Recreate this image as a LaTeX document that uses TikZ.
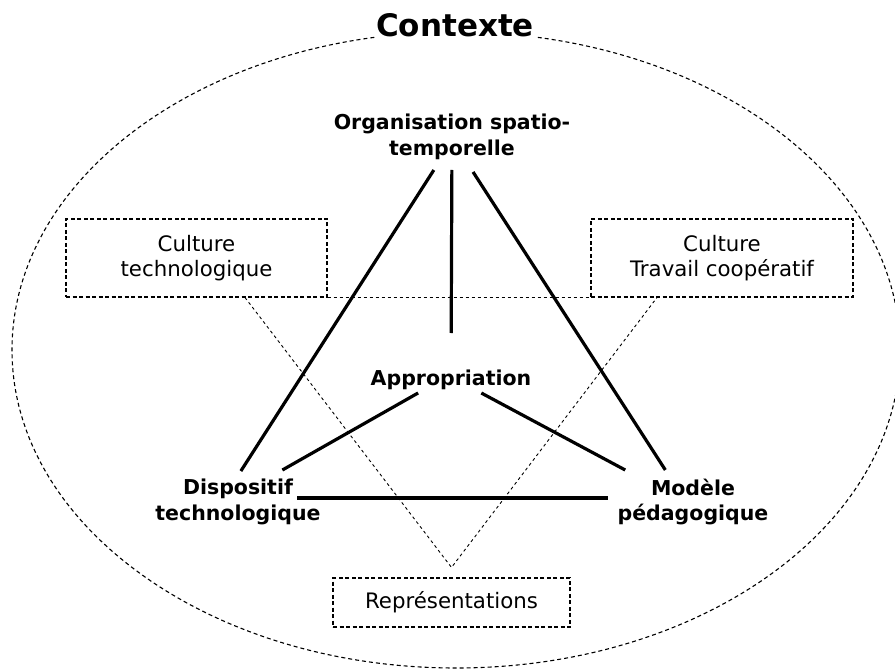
\documentclass[tikz,border=0pt]{standalone}
\usepackage{fontspec}
\setmainfont{DejaVu Sans}

\begin{document}
\begin{tikzpicture}[x=1pt,y=-1pt,
    pole/.style={font=\bfseries\fontsize{20.5}{25.5}\selectfont,align=center,inner sep=0pt},
    cadre/.style={draw,dash pattern=on 4pt off 2.5pt,line width=1.1pt,fill=white,align=center,inner sep=0pt,font=\fontsize{21.3}{25}\selectfont},
    lien/.style={line width=3.2pt},
    pointille/.style={dash pattern=on 4pt off 3pt,line width=1.1pt}]
  \useasboundingbox (0,0) rectangle (895,671);
  \draw[pointille] (456,350) ellipse [x radius=444, y radius=318];
  \node[fill=white,inner sep=1pt,font=\bfseries\fontsize{31}{36}\selectfont] (ctx) at (455,25) {Contexte};

  \node[pole] (org) at (452,137) {Organisation spatio-\\temporelle};
  \node[pole] (appr) at (451,380) {Appropriation};
  \node[pole] (disp) at (238,502) {Dispositif\\technologique};
  \node[pole] (mod) at (693,502) {Modèle\\pédagogique};

  \node[cadre,minimum width=261pt,minimum height=78pt] (cultech) at (196.5,258) {Culture\\technologique};
  \node[cadre,minimum width=262pt,minimum height=78pt] (cultcoop) at (722,258) {Culture\\Travail coopératif};
  \node[cadre,minimum width=237pt,minimum height=49pt] (rep) at (451.5,602.5) {Représentations};
  \coordinate (apex) at ([yshift=10pt]rep.north);

  % triangle des representations
  \draw[dash pattern=on 3pt off 3pt,line width=0.9pt] ([xshift=48.5pt]cultech.south) -- (apex) -- ([xshift=-65pt]cultcoop.south);
  \draw[dash pattern=on 3pt off 3pt,line width=0.9pt] (cultech.south east) -- (cultcoop.south west);

  \draw[lien,shorten <=39.2pt,shorten >=36.8pt] ([xshift=3pt]org.center) -- ([xshift=-17pt]disp.center);
  \draw[lien,shorten <=33pt,shorten >=47pt] (org.center) -- (appr.center);
  \draw[lien,shorten <=41.6pt,shorten >=38.1pt] ([xshift=-1.5pt]org.center) -- ([xshift=-7pt]mod.center);
  \draw[lien,shorten <=26.3pt,shorten >=64.8pt] ([xshift=-10pt]appr.center) -- ([xshift=-12pt]disp.center);
  \draw[lien,shorten <=27.6pt,shorten >=67.8pt] ([xshift=6pt]appr.center) -- ([xshift=-8pt]mod.center);
  \draw[lien,shorten <=59pt,shorten >=85pt] ([yshift=4pt]disp.center) -- ([yshift=4pt]mod.center);
\end{tikzpicture}
\end{document}
